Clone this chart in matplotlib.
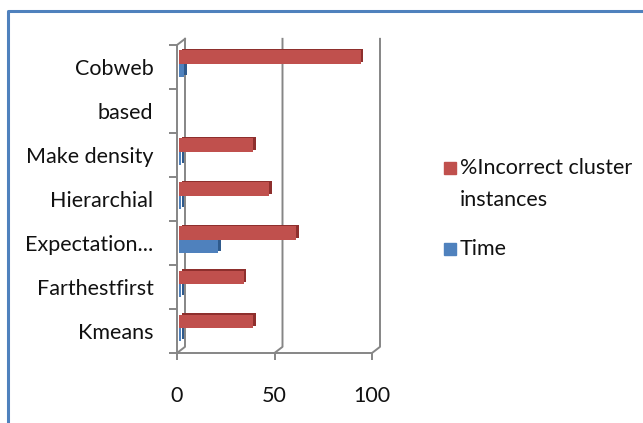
import matplotlib.pyplot as plt
import matplotlib.patheffects as pe
from matplotlib.patches import Rectangle
import numpy as np

plt.rcParams['font.family'] = ['Lato', 'DejaVu Sans']

# clustering algorithms, bottom to top
algorithms = ['Kmeans', 'Farthestfirst', 'Expectation...', 'Hierarchial',
              'Make density', 'based', 'Cobweb']
incorrect = [38, 33, 60, 46, 38, 0, 93]   # % incorrectly clustered instances
time_taken = [1, 1, 20, 1, 1, 0, 2.5]      # time to build model

red = '#C0504D'
blue = '#4F81BD'
grey = '#868686'
ink = '#111111'
fs = 15.5
W, H = 643, 423

fig = plt.figure(figsize=(6.43, 4.23), dpi=100)
ax = fig.add_axes([177 / W, 70 / H, 195 / W, 308 / H])

y = np.arange(len(algorithms))
ax.set_xlim(0, 100)
ax.set_ylim(-0.5, len(algorithms) - 0.5)

# depth of the back wall in data units
dx, dy = 4.1, 0.14

# back wall gridlines with a little diagonal down to the floor edge
for v in [0, 50, 100]:
    ax.plot([v, v + dx, v + dx], [-0.5, -0.5 + dy, len(algorithms) - 0.5 + dy],
            color=grey, lw=1.4, clip_on=False, zorder=1)
ax.plot([0, dx], [len(algorithms) - 0.5, len(algorithms) - 0.5 + dy],
        color=grey, lw=1.4, clip_on=False, zorder=1)

shade_red = [pe.SimplePatchShadow(offset=(1.8, 1.2), shadow_rgbFace='#8E2F2D', alpha=1),
             pe.Normal()]
shade_blue = [pe.SimplePatchShadow(offset=(1.8, 1.2), shadow_rgbFace='#2F5A8C', alpha=1),
              pe.Normal()]

ax.barh(y + 0.22, incorrect, height=0.31, left=1.2, color=red,
        path_effects=shade_red, zorder=3)
ax.barh(y - 0.08, time_taken, height=0.28, left=1.2, color=blue,
        path_effects=shade_blue, zorder=2)

for s in ['top', 'right']:
    ax.spines[s].set_visible(False)
for s in ['left', 'bottom']:
    ax.spines[s].set_color(grey)
    ax.spines[s].set_linewidth(1.4)

ax.set_yticks(np.arange(-0.5, len(algorithms), 1.0), minor=False)
ax.set_yticklabels([])
ax.set_yticks(y, minor=True)
ax.set_yticklabels(algorithms, minor=True)
ax.tick_params(axis='y', which='major', length=6, width=1.4, color=grey)
ax.tick_params(axis='y', which='minor', length=0, pad=17, labelsize=fs,
               labelcolor=ink)

ax.set_xticks([0, 50, 100])
ax.tick_params(axis='x', length=5, width=1.4, color=grey, pad=19,
               labelsize=fs, labelcolor=ink)

# legend: square keys sit on the baseline of the first text line
legend_items = [(red, ['%Incorrect cluster', 'instances'], 174),
                (blue, ['Time'], 255)]
for colour, lines, base in legend_items:
    fig.add_artist(Rectangle((444 / W, 1 - base / H), 12 / W, 12 / H,
                             color=colour, transform=fig.transFigure))
    for k, line in enumerate(lines):
        fig.text(460 / W, 1 - (base + 32 * k) / H, line, fontsize=fs,
                 color=ink, va='baseline', ha='left')

# outer border (top and left only)
fig.add_artist(plt.Line2D([7.5 / W, 7.5 / W, 1], [0, 1 - 11 / H, 1 - 11 / H],
                          color=blue, lw=2.2))

fig.savefig('out.png', dpi=100)
